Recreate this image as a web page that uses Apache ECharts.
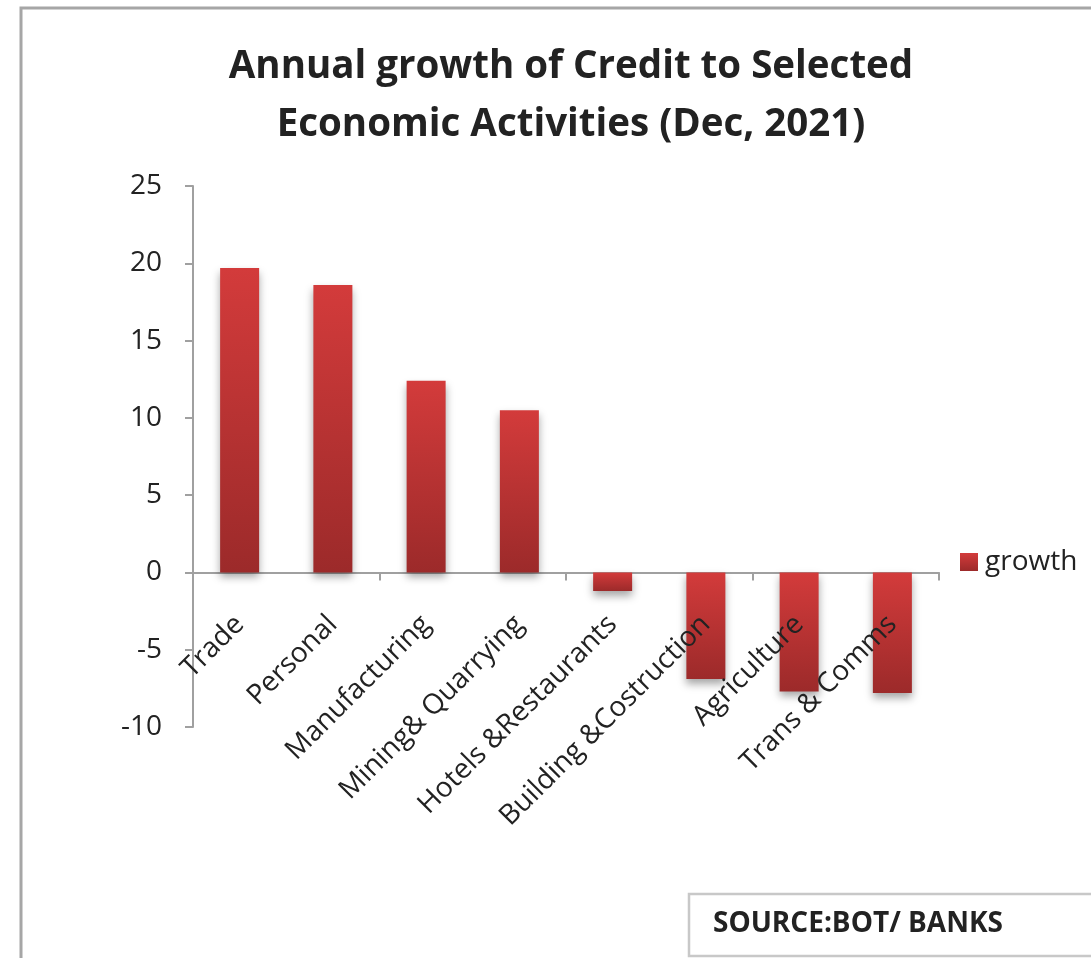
<!DOCTYPE html>
<html><head><meta charset="utf-8">
<script src="https://cdn.jsdelivr.net/npm/echarts@6/dist/echarts.min.js"></script>
<style>html,body{margin:0;padding:0;background:#fff}#c{width:1091px;height:958px}</style>
</head><body><div id="c"></div>
<script>
const categories = ["Trade","Personal","Manufacturing","Mining& Quarrying","Hotels &Restaurants","Building &Costruction","Agriculture","Trans & Comms"];
const growth = [19.7, 18.6, 12.4, 10.5, -1.2, -6.9, -7.7, -7.8];
const yTicks = [-10, -5, 0, 5, 10, 15, 20, 25];
const seriesName = "growth";
const titleText = "Annual growth of Credit to Selected\nEconomic Activities (Dec, 2021)";
const sourceText = "SOURCE:BOT/ BANKS";

const chart = echarts.init(document.getElementById('c'));
const FONT = "'Open Sans', 'Noto Sans', sans-serif";
const barGrad = new echarts.graphic.LinearGradient(0,0,0,1,[{offset:0,color:'#d33b3b'},{offset:1,color:'#9c2a2a'}]);
chart.setOption({
  animation:false,
  backgroundColor:'#fff',
  title:{text:titleText,left:566,top:33,textAlign:'center',
    textStyle:{fontFamily:FONT,fontWeight:'bold',fontSize:38.5,lineHeight:58,color:'#222'}},
  legend:{data:[seriesName],left:955,top:543,itemWidth:18,itemHeight:18,itemGap:6,
    icon:'rect',textStyle:{fontFamily:FONT,fontSize:28,color:'#222',padding:[0,0,0,2]}},
  grid:[
    {left:193,right:152,top:186,bottom:231,containLabel:false},
    {left:193,right:152,top:186,bottom:385,containLabel:false}
  ],
  xAxis:[
    {type:'category',data:categories,gridIndex:0,
      axisLine:{onZero:true,lineStyle:{color:'#a0a0a0',width:2}},
      axisTick:{show:true,length:8,lineStyle:{color:'#a0a0a0',width:2}},
      axisLabel:{show:false}},
    {type:'category',data:categories,gridIndex:1,z:20,zlevel:1,
      axisLine:{show:false},axisTick:{show:false},splitLine:{show:false},
      axisLabel:{rotate:45,margin:47,interval:0,fontFamily:FONT,fontSize:28,color:'#222'}}
  ],
  yAxis:[
    {type:'value',min:-10,max:25,interval:5,gridIndex:0,
      axisLine:{show:true,lineStyle:{color:'#a0a0a0',width:2}},
      axisTick:{show:true,length:8,lineStyle:{color:'#a0a0a0',width:2}},
      splitLine:{show:false},
      axisLabel:{margin:31,fontFamily:FONT,fontSize:28,color:'#222',
        formatter:v=>yTicks.includes(v)?String(v):''}},
    {type:'value',gridIndex:1,show:false,min:0,max:1}
  ],
  series:[{name:seriesName,type:'bar',data:growth,barWidth:39,xAxisIndex:0,yAxisIndex:0,
    itemStyle:{color:barGrad,shadowColor:'rgba(0,0,0,0.35)',shadowBlur:8,shadowOffsetY:5}}],
  graphic:[
    {type:'rect',shape:{x:21,y:8,width:1200,height:1100},style:{fill:'none',stroke:'#a6a6a6',lineWidth:3},silent:true,z:-1},
    {type:'rect',shape:{x:689,y:894,width:500,height:62},style:{fill:'#fff',stroke:'#c8c8c8',lineWidth:2.5}},
    {type:'text',left:713,top:910,style:{text:sourceText,fontFamily:FONT,fontWeight:'bold',fontSize:28,fill:'#222'}}
  ]
});
</script></body></html>
